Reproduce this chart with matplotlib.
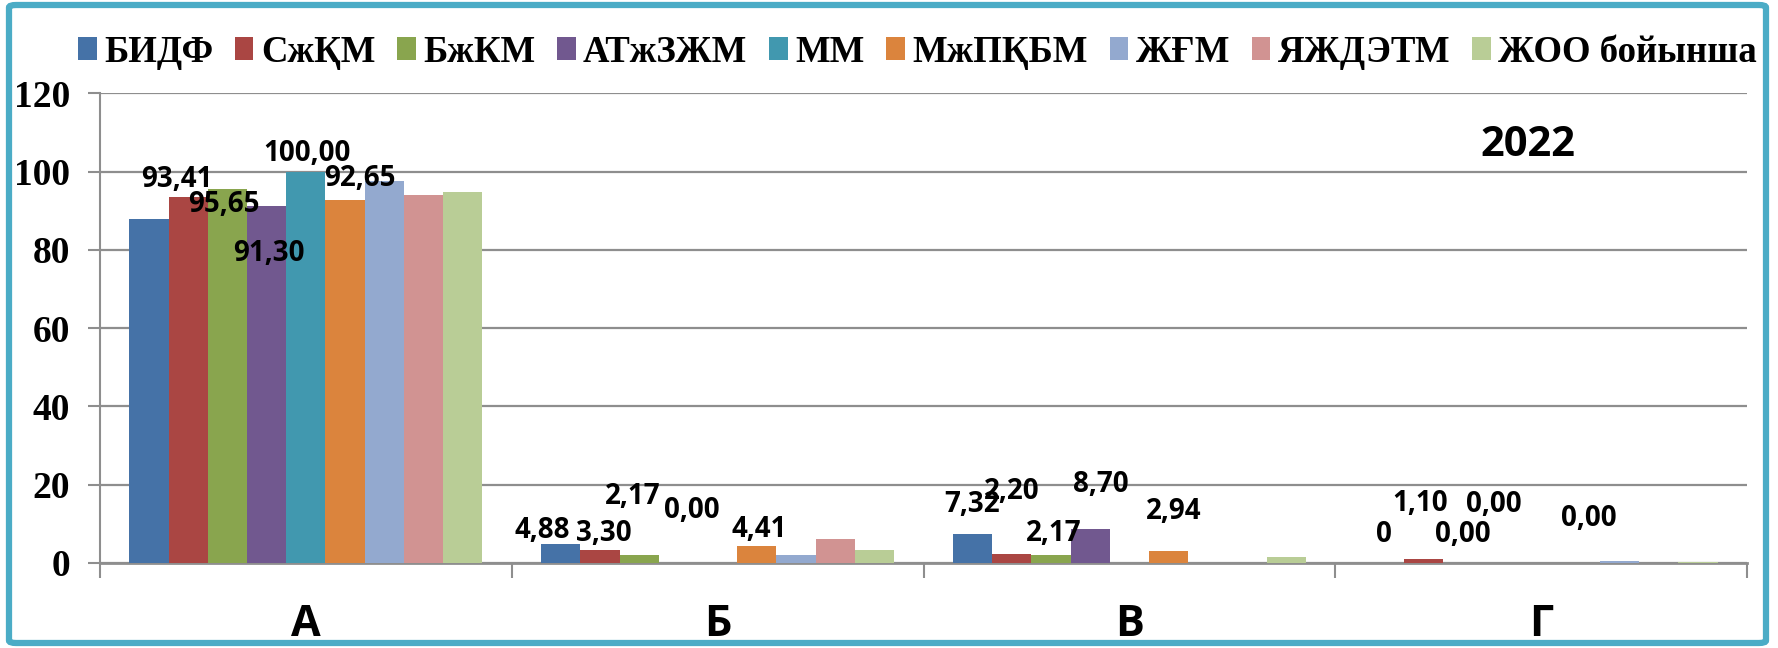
import matplotlib.pyplot as plt
import numpy as np
from matplotlib.patches import FancyBboxPatch

# data
categories = ['А', 'Б', 'В', 'Г']
series = ['БИДФ', 'СжҚМ', 'БжКМ', 'АТжЗЖМ', 'ММ', 'МжПҚБМ', 'ЖҒМ', 'ЯЖДЭТМ', 'ЖОО бойынша']
values = [
    [87.8, 4.88, 7.32, 0.0],     # БИДФ
    [93.41, 3.30, 2.20, 1.10],   # СжҚМ
    [95.65, 2.17, 2.17, 0.0],    # БжКМ
    [91.30, 0.0, 8.70, 0.0],     # АТжЗЖМ
    [100.00, 0.0, 0.0, 0.0],     # ММ
    [92.65, 4.41, 2.94, 0.0],    # МжПҚБМ
    [97.5, 2.0, 0.0, 0.5],       # ЖҒМ
    [94.0, 6.1, 0.0, 0.0],       # ЯЖДЭТМ
    [94.7, 3.2, 1.6, 0.3],       # ЖОО бойынша
]
colors = ['#4572A7', '#AA4643', '#89A54E', '#71588F', '#4198AF',
          '#DB843D', '#93A9CF', '#D19392', '#B9CD96']
yticks = [0, 20, 40, 60, 80, 100, 120]

# data labels: (category, series, text) and where they sit (pixels from bar top)
label_cells = [
    (0, 1, '93,41'), (0, 2, '95,65'), (0, 3, '91,30'), (0, 4, '100,00'), (0, 5, '92,65'),
    (1, 0, '4,88'), (1, 1, '3,30'), (1, 2, '2,17'), (1, 3, '0,00'), (1, 5, '4,41'),
    (2, 0, '7,32'), (2, 1, '2,20'), (2, 2, '2,17'), (2, 3, '8,70'), (2, 5, '2,94'),
    (3, 0, '0'), (3, 1, '1,10'), (3, 2, '0,00'), (3, 3, '0,00'), (3, 5, '0,00'),
]
label_offsets = [
    (-11, 18), (-4, -16), (2, -48), (1, 18), (15, 22),
    (-19, 13), (4, 17), (-6, 58), (13, 53), (2, 16),
    (0, 30), (0, 63), (3, 21), (11, 44), (5, 40),
    (0, 28), (-3, 55), (0, 29), (-8, 58), (8, 44),
]

fig = plt.figure(figsize=(17.78, 6.48), dpi=100)
ax = fig.add_axes([100 / 1778, 1 - 563 / 648, 1647 / 1778, (563 - 93.3) / 648])

n = len(series)
w = 1 / (n + 1.5)
x = np.arange(len(categories))
for i, (name, vals) in enumerate(zip(series, values)):
    ax.bar(x + (i - (n - 1) / 2) * w, vals, width=w, color=colors[i],
           label=name, linewidth=0, zorder=3)

for (c, s, txt), (dx, dy) in zip(label_cells, label_offsets):
    xb = x[c] + (s - (n - 1) / 2) * w
    ax.annotate(txt, xy=(xb, values[s][c]), xytext=(dx, dy), textcoords='offset pixels',
                ha='center', va='center', fontsize=20, fontweight='bold',
                family='Open Sans', color='black', zorder=5)

ax.set_xlim(-0.5, len(categories) - 0.5)
ax.set_ylim(0, 120)
ax.set_yticks(yticks)
ax.set_yticklabels([str(t) for t in yticks], family='Liberation Serif',
                   fontweight='bold', fontsize=27)
ax.grid(axis='y', color='#8e8e8e', linewidth=1.6, zorder=0)

ax.set_xticks(np.arange(-0.5, len(categories)), labels=[''] * (len(categories) + 1))
ax.set_xticks(x, minor=True)
ax.set_xticklabels(categories, minor=True, family='Open Sans', fontweight='bold', fontsize=31)
ax.tick_params(axis='x', which='major', direction='out', length=11, width=1.5, color='#8e8e8e')
ax.tick_params(axis='x', which='minor', length=0, pad=29)
ax.tick_params(axis='y', direction='out', length=8.5, width=1.5, color='#8e8e8e', pad=13)

for side in ['top', 'right']:
    ax.spines[side].set_visible(False)
ax.spines['left'].set_color('#8e8e8e')
ax.spines['left'].set_linewidth(1.5)
ax.spines['bottom'].set_color('#8e8e8e')
ax.spines['bottom'].set_linewidth(2)

fig.text(1528 / 1778, 1 - 145 / 648, '2022', ha='center', va='center',
         fontsize=30, fontweight='bold', family='Open Sans')

fig.legend(loc='center', bbox_to_anchor=(0.516, 1 - 52 / 648), ncol=n, frameon=False,
           prop={'family': 'Liberation Serif', 'weight': 'bold', 'size': 26.5},
           handlelength=0.5, handleheight=0.6, handletextpad=0.2, columnspacing=0.6)

# slide frame round the chart
frame = FancyBboxPatch((9 / 1778, 5 / 648), 1757 / 1778, 638 / 648,
                       boxstyle='round,pad=0,rounding_size=0.004', transform=fig.transFigure,
                       facecolor='none', edgecolor='#4BACC6', linewidth=4.5, zorder=10)
fig.patches.append(frame)

fig.savefig('out.png', dpi=100)
plt.close()
